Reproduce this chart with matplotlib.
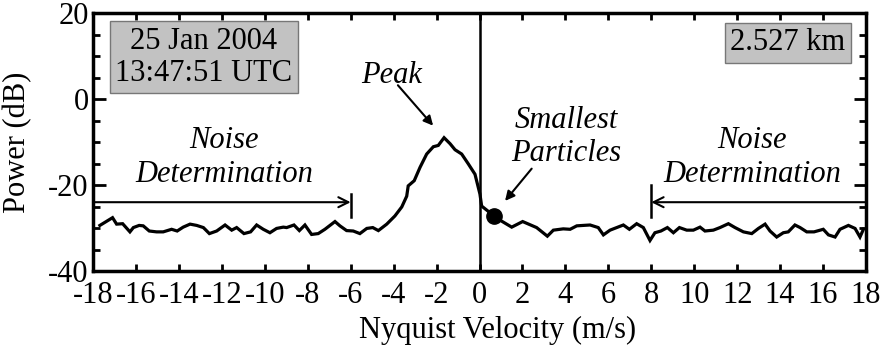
import matplotlib
matplotlib.use("Agg")
import matplotlib.pyplot as plt
from matplotlib.ticker import MultipleLocator

FAM = "Liberation Serif"
plt.rcParams["font.family"] = FAM
plt.rcParams["axes.unicode_minus"] = False

# Doppler spectrum: velocity (m/s) and power (dB)
velocity = [
    -17.68, -17.09, -16.90, -16.62, -16.28, -16.12, -15.85, -15.66, -15.38, -15.04,
    -14.73, -14.34, -14.08, -13.80, -13.48, -13.17, -12.86, -12.58, -12.24, -11.85,
    -11.54, -11.31, -10.97, -10.66, -10.38, -10.07, -9.76, -9.45, -9.14, -8.98,
    -8.64, -8.39, -8.13, -7.82, -7.51, -7.20, -6.73, -6.50, -6.19, -5.88,
    -5.57, -5.25, -4.97, -4.71, -4.32, -3.94, -3.62, -3.39, -3.32, -3.04,
    -2.77, -2.46, -2.15, -1.92, -1.65, -1.37, -1.14, -0.83, -0.52, -0.21,
    0.02, 0.10, 0.68, 1.03, 1.50, 2.01, 2.66, 3.16, 3.44, 3.90,
    4.22, 4.53, 4.83, 5.15, 5.53, 5.77, 6.08, 6.39, 6.70, 6.98,
    7.32, 7.63, 7.94, 8.17, 8.45, 8.75, 9.03, 9.31, 9.65, 9.96,
    10.27, 10.50, 10.89, 11.20, 11.59, 11.90, 12.29, 12.68, 12.99, 13.30,
    13.53, 13.84, 14.15, 14.38, 14.69, 14.93, 15.24, 15.58, 16.01, 16.25,
    16.56, 16.79, 17.18, 17.49, 17.72, 17.88,
]
power = [
    -29.4, -27.6, -29.1, -29.0, -30.9, -29.9, -29.4, -29.5, -30.7, -30.9,
    -30.9, -30.3, -30.7, -29.8, -29.1, -29.4, -29.9, -31.3, -30.7, -29.3,
    -30.5, -29.9, -31.3, -30.9, -29.3, -30.3, -31.1, -30.1, -29.8, -29.9,
    -29.3, -30.6, -29.3, -31.5, -31.3, -30.3, -28.5, -29.5, -30.6, -30.7,
    -31.3, -30.1, -29.9, -30.6, -29.1, -27.2, -25.1, -22.6, -20.2, -19.0,
    -15.9, -12.8, -11.1, -10.8, -9.0, -10.4, -11.8, -12.8, -15.1, -17.5,
    -22.1, -24.9, -27.2, -28.4, -29.8, -28.5, -29.9, -31.9, -30.5, -30.2,
    -30.3, -29.5, -29.4, -29.3, -29.9, -31.6, -30.5, -29.9, -29.3, -30.3,
    -29.0, -29.9, -32.9, -31.1, -30.7, -29.9, -31.1, -29.9, -30.5, -30.5,
    -29.8, -30.7, -30.5, -29.9, -29.0, -29.9, -30.9, -31.3, -30.1, -29.1,
    -30.7, -32.1, -31.1, -30.9, -29.3, -29.9, -30.9, -30.9, -30.3, -31.6,
    -32.1, -30.3, -29.4, -30.1, -32.1, -30.3,
]

# Smallest-particle point and noise-window limits
smallest_v, smallest_p = 0.68, -27.2
noise_left_end = -6
noise_right_start = 8
noise_level = -24

x_ticks = list(range(-18, 19, 2))
x_tick_labels = [str(v) for v in x_ticks]
y_ticks = [-40, -20, 0, 20]
y_tick_labels = [str(v) for v in y_ticks]

fs = 22

fig = plt.figure(figsize=(8.8, 3.54), dpi=100)
ax = fig.add_axes([93 / 880, 1 - 271 / 354, (866 - 93) / 880, (271 - 13) / 354])

ax.plot(velocity, power, color="black", lw=2.3, solid_joinstyle="miter", zorder=3)
ax.plot([smallest_v], [smallest_p], "o", color="black", ms=11, zorder=4)
ax.axvline(0, color="black", lw=1.8, zorder=2)

ax.set_xlim(-18, 18)
ax.set_ylim(-40, 20)

ax.set_xticks(x_ticks, labels=x_tick_labels, family=FAM, fontsize=fs)
ax.set_yticks(y_ticks, labels=y_tick_labels, family=FAM, fontsize=fs)
ax.yaxis.set_minor_locator(MultipleLocator(5))
ax.tick_params(axis="both", which="both", direction="in", top=True, right=True, width=2)
ax.tick_params(axis="x", which="major", length=5, pad=7)
ax.tick_params(axis="y", which="major", length=9, pad=3)
ax.tick_params(axis="y", which="minor", length=5)
for s in ax.spines.values():
    s.set_linewidth(2.5)

ax.set_xlabel("Nyquist Velocity (m/s)", fontsize=fs, family=FAM)
ax.xaxis.set_label_coords(0.523, -0.175)
ax.set_ylabel("Power (dB)", fontsize=fs, family=FAM)
ax.yaxis.set_label_coords(-0.078, 0.5)

box = dict(boxstyle="square,pad=0.18", facecolor="#c2c2c2", edgecolor="#777777", lw=1)
ax.text(-12.83, 9.7, "25 Jan 2004\n13:47:51 UTC", fontsize=fs, family=FAM,
        ha="center", va="center", bbox=box, linespacing=1.15)
ax.text(14.37, 13.1, "2.527 km", fontsize=fs, family=FAM, ha="center",
        va="center", bbox=box)

# Noise determination windows
ax.annotate("", xy=(noise_left_end, noise_level), xytext=(-18, noise_level),
            arrowprops=dict(arrowstyle="->", color="black", lw=1.5,
                            mutation_scale=18, shrinkA=0, shrinkB=0))
ax.plot([noise_left_end, noise_left_end], [-22, -27.5], color="black", lw=1.8)
ax.annotate("", xy=(noise_right_start, noise_level), xytext=(18, noise_level),
            arrowprops=dict(arrowstyle="->", color="black", lw=1.5,
                            mutation_scale=18, shrinkA=0, shrinkB=0))
ax.plot([noise_right_start, noise_right_start], [-20, -27.5], color="black", lw=1.8)

ax.text(-11.9, -13.6, "Noise\nDetermination", fontsize=fs, family=FAM,
        style="italic", ha="center", va="center", linespacing=1.25)
ax.text(12.69, -13.6, "Noise\nDetermination", fontsize=fs, family=FAM,
        style="italic", ha="center", va="center", linespacing=1.25)

ax.text(-4.08, 5.5, "Peak", fontsize=fs, family=FAM, style="italic",
        ha="center", va="center")
ax.annotate("", xy=(-2.16, -6.2), xytext=(-3.8, 3.2),
            arrowprops=dict(arrowstyle="-|>", color="black", lw=1.5,
                            mutation_scale=14, shrinkA=0, shrinkB=0))

ax.text(4.03, -8.8, "Smallest\nParticles", fontsize=fs, family=FAM,
        style="italic", ha="center", va="center", linespacing=1.2)
ax.annotate("", xy=(1.19, -23.7), xytext=(2.43, -16.2),
            arrowprops=dict(arrowstyle="-|>", color="black", lw=1.5,
                            mutation_scale=14, shrinkA=0, shrinkB=0))

fig.savefig("out.png", dpi=100)
